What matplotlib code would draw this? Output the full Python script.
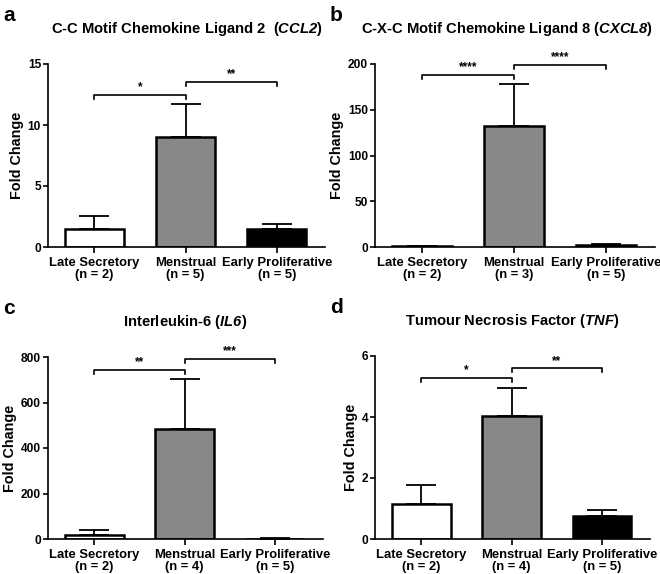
import matplotlib
matplotlib.use("Agg")
import matplotlib.pyplot as plt

plt.rcParams['font.family'] = ['Liberation Sans', 'DejaVu Sans']
plt.rcParams['font.weight'] = 'bold'
plt.rcParams['mathtext.fontset'] = 'custom'
plt.rcParams['mathtext.it'] = 'Liberation Sans:bold:italic'
plt.rcParams['mathtext.rm'] = 'Liberation Sans:bold:italic'

groups = ["Late Secretory", "Menstrual", "Early Proliferative"]
bar_colors = ["white", "#888888", "black"]

# panel data: means, upper SEM
ccl2_mean = [1.5, 9.0, 1.5]
ccl2_err = [1.05, 2.7, 0.35]
ccl2_n = [2, 5, 5]

cxcl8_mean = [0.6, 132, 2.0]
cxcl8_err = [0.4, 46, 1.5]
cxcl8_n = [2, 3, 5]

il6_mean = [16, 485, 2]
il6_err = [25, 217, 3]
il6_n = [2, 4, 5]

tnf_mean = [1.14, 4.04, 0.76]
tnf_err = [0.63, 0.92, 0.2]
tnf_n = [2, 4, 5]

# significance brackets: (start, end, height, stars)
ccl2_sig = [(0, 1, 12.5, "*"), (1, 2, 13.55, "**")]
cxcl8_sig = [(0, 1, 188, "****"), (1, 2, 199, "****")]
il6_sig = [(0, 1, 745, "**"), (1, 2, 793, "***")]
tnf_sig = [(0, 1, 5.29, "*"), (1, 2, 5.6, "**")]

panels = [
    ("a", "C-C Motif Chemokine Ligand 2  ($\\mathrm{CCL2}$)", ccl2_mean, ccl2_err, ccl2_n,
     ccl2_sig, 15, [0, 5, 10, 15], [48, 64, 325, 247], 0.5),
    ("b", "C-X-C Motif Chemokine Ligand 8 ($\\mathrm{CXCL8}$)", cxcl8_mean, cxcl8_err, cxcl8_n,
     cxcl8_sig, 200, [0, 50, 100, 150, 200], [375, 64, 655, 247], 0.47),
    ("c", "Interleukin-6 ($\\mathrm{IL6}$)", il6_mean, il6_err, il6_n,
     il6_sig, 800, [0, 200, 400, 600, 800], [48, 357, 323, 539], 0.5),
    ("d", "Tumour Necrosis Factor ($\\mathrm{TNF}$)", tnf_mean, tnf_err, tnf_n,
     tnf_sig, 6, [0, 2, 4, 6], [375, 356, 650, 539], 0.5),
]

W, H = 660, 574
fig = plt.figure(figsize=(W / 100, H / 100), dpi=100)

for letter, title, means, errs, ns, sigs, ymax, yticks, box, tx in panels:
    x0, y0, x1, y1 = box
    ax = fig.add_axes([x0 / W, 1 - y1 / H, (x1 - x0) / W, (y1 - y0) / H])
    xs = [0, 1, 2]
    ax.errorbar(xs, means, yerr=[[0, 0, 0], errs], fmt="none", ecolor="black",
                elinewidth=1.3, capsize=10.5, capthick=1.3, zorder=1)
    ax.bar(xs, means, width=0.65, color=bar_colors, edgecolor="black",
           linewidth=1.8, zorder=2)
    ax.set_xlim(-0.51, 2.53)
    ax.set_ylim(0, ymax)
    ax.set_yticks(yticks)
    ax.set_xticks(xs)
    ax.set_xticklabels([f"{g}\n(n = {n})" for g, n in zip(groups, ns)],
                       fontsize=9.4, fontweight="bold", linespacing=1.05)
    for lab in ax.get_yticklabels():
        lab.set_fontsize(8.6)
        lab.set_fontweight("bold")
    ax.tick_params(axis="y", length=3.5, width=1.2, pad=1.5)
    ax.tick_params(axis="x", length=4, width=1.2, pad=3)
    for s in ["top", "right"]:
        ax.spines[s].set_visible(False)
    for s in ["left", "bottom"]:
        ax.spines[s].set_linewidth(1.2)
    ax.set_ylabel("Fold Change", fontsize=10.4, fontweight="bold", labelpad=2.5)
    ax.set_title(title, fontsize=10.6, fontweight="bold", pad=22, x=tx)

    drop = ymax * 0.022
    for a, b, h, stars in sigs:
        ax.plot([a, a, b, b], [h - drop, h, h, h - drop], color="black",
                linewidth=1.2, clip_on=False, zorder=3)
        ax.text((a + b) / 2, h + ymax * 0.008, stars, ha="center", va="bottom",
                fontsize=8.5, fontweight="bold", clip_on=False)

    fig.text((x0 - 45) / W, 1 - (y0 - 58) / H, letter, fontsize=15,
             fontweight="bold", ha="left", va="top")

fig.savefig("out.png", dpi=100)
